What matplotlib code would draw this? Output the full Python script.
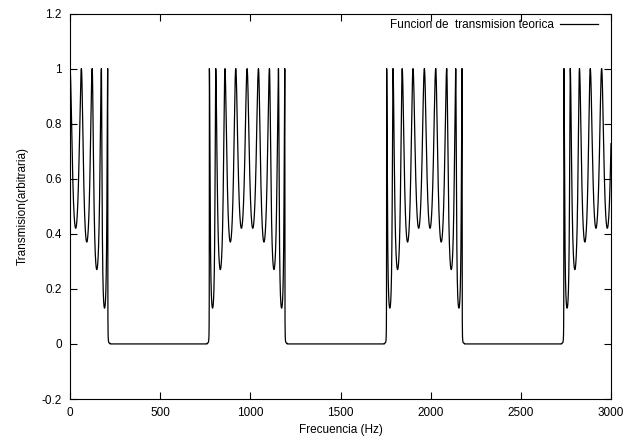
import numpy as np
import matplotlib
matplotlib.use("Agg")
import matplotlib.pyplot as plt

# ==============================================================================
# DATOS
# ==============================================================================

# Frecuencias (Hz) de los maximos de transmision (T = 1), por banda de paso
picos_banda1 = [0, 63, 123, 174, 209]
picos_banda2 = [773, 808, 859, 919, 982, 1045, 1106, 1156, 1191]
picos_banda3 = [1756, 1791, 1842, 1902, 1965, 2028, 2089, 2139, 2174]
picos_banda4 = [2739, 2774, 2825, 2885, 2948, 3011]

# Minimos de transmision entre maximos consecutivos
valles_banda1 = [0.42, 0.37, 0.27, 0.13]
valles_banda2 = [0.13, 0.27, 0.37, 0.42, 0.42, 0.37, 0.27, 0.13]
valles_banda3 = [0.13, 0.27, 0.37, 0.42, 0.42, 0.37, 0.27, 0.13]
valles_banda4 = [0.13, 0.27, 0.37, 0.42, 0.42]

# Bordes de cada banda de paso (Hz) donde la transmision cae a 0
bordes_banda1 = (None, 222)
bordes_banda2 = (760, 1204)
bordes_banda3 = (1743, 2187)
bordes_banda4 = (2726, None)

ticks_x = [0, 500, 1000, 1500, 2000, 2500, 3000]
ticks_y = [-0.2, 0, 0.2, 0.4, 0.6, 0.8, 1, 1.2]
etiquetas_y = ['-0.2', '0', '0.2', '0.4', '0.6', '0.8', '1', '1.2']

FUENTE = ['Liberation Sans', 'DejaVu Sans']


def curva_banda(f, t, picos, valles, bordes, k_borde=400.0):
    # entre dos maximos: 1 / (1 + k sin^2), k fijado por el minimo leido
    for p0, p1, vmin in zip(picos[:-1], picos[1:], valles):
        m = (f >= p0) & (f <= p1)
        k = 1.0 / vmin - 1.0
        t[m] = 1.0 / (1.0 + k * np.sin(np.pi * (f[m] - p0) / (p1 - p0)) ** 2)
    ini, fin = bordes
    # caida abrupta hacia la banda prohibida
    if ini is not None:
        m = (f >= ini) & (f < picos[0])
        s = (picos[0] - f[m]) / (picos[0] - ini)
        t[m] = 1.0 / (1.0 + k_borde * np.sin(np.pi / 2 * s) ** 2)
    if fin is not None:
        m = (f > picos[-1]) & (f <= fin)
        s = (f[m] - picos[-1]) / (fin - picos[-1])
        t[m] = 1.0 / (1.0 + k_borde * np.sin(np.pi / 2 * s) ** 2)


frec = np.linspace(0, 3000, 60001)
trans = np.zeros_like(frec)
for picos, valles, bordes in [(picos_banda1, valles_banda1, bordes_banda1),
                              (picos_banda2, valles_banda2, bordes_banda2),
                              (picos_banda3, valles_banda3, bordes_banda3),
                              (picos_banda4, valles_banda4, bordes_banda4)]:
    curva_banda(frec, trans, picos, valles, bordes)

# ==============================================================================
# GRAFICO
# ==============================================================================

fig = plt.figure(figsize=(6.28, 4.40), dpi=100)
ax = fig.add_axes([70 / 628, 1 - 399 / 440, 541 / 628, 385.5 / 440])

ax.plot(frec, trans, color='black', linewidth=0.9,
        label='Funcion de  transmision teorica')

ax.set_xlim(0, 3000)
ax.set_ylim(-0.2, 1.2)
ax.set_xticks(ticks_x)
ax.set_xticklabels([str(v) for v in ticks_x], family=FUENTE, fontsize=8.5)
ax.set_yticks(ticks_y)
ax.set_yticklabels(etiquetas_y, family=FUENTE, fontsize=8.5)
ax.tick_params(direction='in', top=True, right=True, length=5, width=0.8, pad=6)

for s in ax.spines.values():
    s.set_linewidth(0.8)

ax.set_xlabel('Frecuencia (Hz)', family=FUENTE, fontsize=8.5, labelpad=3)
ax.set_ylabel('Transmision(arbitraria)', family=FUENTE, fontsize=8.5, labelpad=9)

ax.legend(loc='upper right', bbox_to_anchor=(0.995, 1.012), frameon=False,
          markerfirst=False, handlelength=3.2, handletextpad=0.5,
          prop={'family': FUENTE, 'size': 8.5})

fig.savefig('out.png', dpi=100)
